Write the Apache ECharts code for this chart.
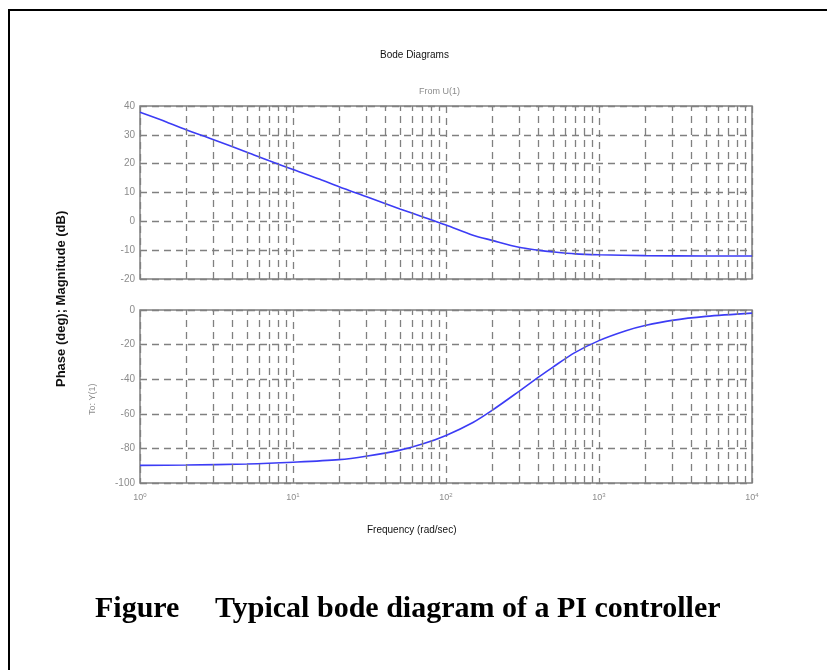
<!DOCTYPE html>
<html lang="en">
<head>
<meta charset="UTF-8">
<title>Bode Diagrams</title>
<style>
  html, body { margin: 0; padding: 0; background: #fff; }
  #chart { width: 827px; height: 670px; }
</style>
</head>
<body>
<div id="chart"></div>
<script src="https://cdn.jsdelivr.net/npm/echarts@6/dist/echarts.min.js"></script>
<script>
// values
var magFreq = [1, 1.5, 2, 3, 5, 7, 10, 15, 20, 30, 50, 70, 100, 150, 200, 300, 400, 500, 700, 1000, 2000, 5000, 10000];
var magDb = [37.8, 34.4, 31.8, 28.4, 24, 21, 18, 14.6, 12, 8.6, 4.3, 1.6, -1.3, -4.8, -6.6, -9, -10, -10.6, -11.3, -11.6, -11.9, -12, -12];

var phaseFreq = [1, 2, 5, 10, 20, 30, 50, 70, 100, 150, 200, 300, 400, 500, 700, 1000, 1500, 2000, 3000, 5000, 10000];
var phaseDeg = [-89.8, -89.6, -89, -88, -86.5, -84.5, -81, -77.5, -72.5, -65, -58, -47, -39, -33, -24.5, -17.7, -12, -9, -6, -3.7, -1.8];

var gridFreq = [2, 3, 4, 5, 6, 7, 8, 9, 20, 30, 40, 50, 60, 70, 80, 90,
  200, 300, 400, 500, 600, 700, 800, 900, 2000, 3000, 4000, 5000, 6000, 7000, 8000, 9000];

var gray = '#808080';
var labelGray = '#8c8c8c';
var blue = '#3c3cf5';

function pairs(xs, ys) {
  return xs.map(function (x, i) { return [x, ys[i]]; });
}

var dashed = { color: gray, width: 1.3, type: [7, 5] };

var minorLines = {
  silent: true,
  symbol: 'none',
  label: { show: false },
  lineStyle: dashed,
  emphasis: { disabled: true },
  data: gridFreq.map(function (f) { return { xAxis: f }; })
};

function xAxisOf(idx, showLabels) {
  return {
    type: 'log',
    logBase: 10,
    gridIndex: idx,
    min: 1,
    max: 10000,
    axisLine: { show: false },
    axisTick: { show: false },
    splitLine: { show: true, lineStyle: dashed },
    axisLabel: {
      show: showLabels,
      color: labelGray,
      fontSize: 9,
      fontFamily: 'Liberation Sans',
      margin: 9,
      formatter: function (v) {
        return '10{s|' + Math.round(Math.log(v) / Math.LN10) + '}';
      },
      rich: { s: { fontSize: 6, color: labelGray, padding: [0, 0, 6, 0] } }
    }
  };
}

function yAxisOf(idx, min, max, step) {
  return {
    type: 'value',
    gridIndex: idx,
    min: min,
    max: max,
    interval: step,
    axisLine: { show: false },
    axisTick: { show: false },
    splitLine: { show: true, lineStyle: dashed },
    axisLabel: { color: labelGray, fontSize: 10, fontFamily: 'Liberation Sans', margin: 5 }
  };
}

var chart = echarts.init(document.getElementById('chart'));

var option = {
  animation: false,
  backgroundColor: '#fff',
  grid: [
    { left: 140, top: 106, width: 612, height: 173, show: true, borderColor: gray, borderWidth: 1.5, backgroundColor: 'transparent' },
    { left: 140, top: 310, width: 612, height: 173, show: true, borderColor: gray, borderWidth: 1.5, backgroundColor: 'transparent' }
  ],
  xAxis: [xAxisOf(0, false), xAxisOf(1, true)],
  yAxis: [yAxisOf(0, -20, 40, 10), yAxisOf(1, -100, 0, 20)],
  series: [
    {
      type: 'line',
      xAxisIndex: 0,
      yAxisIndex: 0,
      data: pairs(magFreq, magDb),
      smooth: 0.3,
      showSymbol: false,
      lineStyle: { color: blue, width: 1.6 },
      markLine: minorLines
    },
    {
      type: 'line',
      xAxisIndex: 1,
      yAxisIndex: 1,
      data: pairs(phaseFreq, phaseDeg),
      smooth: 0.3,
      showSymbol: false,
      lineStyle: { color: blue, width: 1.6 },
      markLine: minorLines
    }
  ],
  graphic: [
    {
      type: 'polyline',
      shape: { points: [[9, 670], [9, 10], [827, 10]] },
      style: { stroke: '#000', lineWidth: 2, fill: null }
    },
    {
      type: 'text', left: 380, top: 50,
      style: { text: 'Bode Diagrams', font: '10px "Liberation Sans"', fill: '#111' }
    },
    {
      type: 'text', left: 419, top: 87,
      style: { text: 'From U(1)', font: '9px "Liberation Sans"', fill: labelGray }
    },
    {
      type: 'text', left: 367, top: 525,
      style: { text: 'Frequency (rad/sec)', font: '10px "Liberation Sans"', fill: '#111' }
    },
    {
      type: 'text', x: 55, y: 387, rotation: Math.PI / 2,
      style: { text: 'Phase (deg); Magnitude (dB)', font: 'bold 13px "Liberation Sans"', fill: '#111' }
    },
    {
      type: 'text', x: 88, y: 415, rotation: Math.PI / 2,
      style: { text: 'To: Y(1)', font: '9px "Liberation Sans"', fill: labelGray }
    },
    {
      type: 'text', left: 95, top: 594,
      style: { text: 'Figure', font: 'bold 30px "Liberation Serif"', fill: '#000' }
    },
    {
      type: 'text', left: 215, top: 594,
      style: { text: 'Typical bode diagram of a PI controller', font: 'bold 30px "Liberation Serif"', fill: '#000' }
    }
  ]
};

chart.setOption(option);
</script>
</body>
</html>
